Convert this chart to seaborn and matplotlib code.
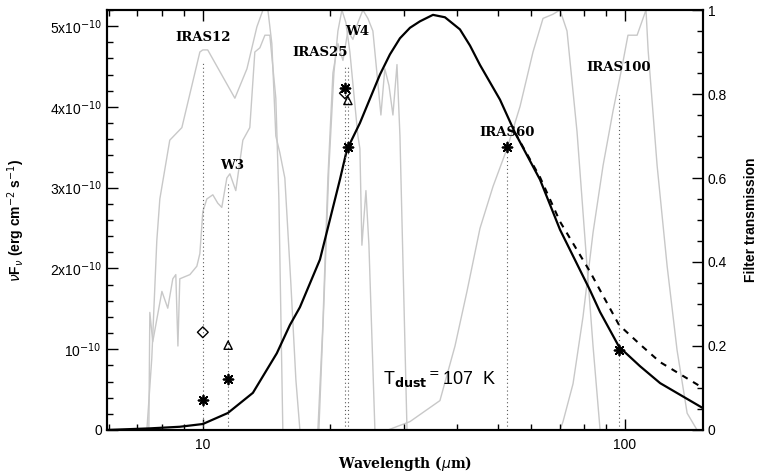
import matplotlib
matplotlib.use('Agg')
import matplotlib.pyplot as plt
import seaborn as sns
import pandas as pd
from matplotlib.ticker import MultipleLocator, LogLocator, NullFormatter

# SED curve (solid) and pure blackbody (dashed), flux in units of 1e-10
sed_wave = [5.92, 7.49, 8.82, 10.0, 11.46, 13.14, 14.97, 16.08, 16.98, 18.94, 21.12, 21.94,
            23.55, 26.27, 27.74, 29.30, 30.95, 32.68, 35.08, 37.45, 40.64, 42.93, 45.33,
            50.56, 54.88, 62.89, 70.14, 82.61, 87.27, 96.78, 108.5, 121.1, 153.0]
sed_flux = [0.0, 0.02, 0.04, 0.074, 0.21, 0.46, 0.95, 1.30, 1.52, 2.11, 3.10, 3.47,
            3.80, 4.40, 4.65, 4.85, 4.98, 5.06, 5.14, 5.11, 4.96, 4.76, 4.52,
            4.09, 3.68, 3.10, 2.48, 1.73, 1.46, 1.03, 0.79, 0.58, 0.27]
bb_wave = [54.88, 62.89, 70.14, 82.61, 87.27, 96.78, 108.5, 121.1, 153.0]
bb_flux = [3.68, 3.13, 2.58, 1.96, 1.73, 1.30, 1.06, 0.84, 0.52]

# filter transmission curves
w3_wave = [7.45, 7.49, 7.61, 8.00, 8.26, 8.49, 8.63, 8.73, 8.82, 9.32, 9.68, 9.84, 10.0, 10.22,
           10.56, 10.85, 11.09, 11.40, 11.59, 11.97, 12.44, 12.92, 13.28, 13.65, 14.03, 14.41,
           14.89, 15.14, 15.47]
w3_trans = [0, 0.28, 0.21, 0.33, 0.29, 0.36, 0.37, 0.20, 0.36, 0.37, 0.39, 0.42, 0.52, 0.55,
            0.56, 0.54, 0.53, 0.60, 0.61, 0.57, 0.69, 0.72, 0.90, 0.91, 0.94, 0.94,
            0.79, 0.55, 0]
i12_wave = [7.37, 7.57, 7.78, 7.91, 8.35, 8.92, 9.84, 10.0, 10.27, 11.91, 12.72, 13.43, 13.88,
            14.26, 14.57, 14.89, 15.22, 15.64, 16.16, 16.61, 16.98]
i12_trans = [0, 0.17, 0.45, 0.55, 0.69, 0.72, 0.90, 0.905, 0.905, 0.79, 0.86, 0.96, 1.0,
             1.0, 0.92, 0.70, 0.66, 0.60, 0.35, 0.12, 0]
i25_wave = [18.83, 19.35, 19.88, 20.44, 20.89, 21.35, 21.82, 22.30, 22.79, 23.30, 23.55, 23.81,
            24.34, 24.74, 25.56]
i25_trans = [0, 0.3, 0.62, 0.85, 0.95, 1.0, 0.97, 0.9, 0.8, 0.7, 0.67, 0.44, 0.57, 0.44, 0]
w4_wave = [18.73, 19.24, 19.78, 20.33, 20.89, 21.47, 22.06, 22.67, 23.30, 23.94, 24.60, 25.28,
           25.84, 26.41, 26.98, 27.60, 28.20, 28.83, 29.30, 29.95, 30.45]
w4_trans = [0, 0.25, 0.6, 0.85, 0.92, 0.88, 0.95, 0.93, 0.97, 1.0, 0.98, 0.95, 0.85, 0.75,
            0.86, 0.82, 0.75, 0.87, 0.7, 0.3, 0]
i60_wave = [27.44, 30.95, 36.44, 39.56, 42.23, 45.33, 48.68, 52.54, 56.39, 60.53, 63.93, 67.52,
            70.14, 72.87, 76.96, 81.27, 83.98, 87.27]
i60_trans = [0, 0.02, 0.07, 0.2, 0.33, 0.48, 0.58, 0.67, 0.77, 0.90, 0.98, 0.99, 1.0, 0.95,
             0.71, 0.39, 0.2, 0]
i100_wave = [70.14, 71.30, 75.30, 79.52, 83.98, 88.71, 93.67, 98.38, 101.6, 106.8, 112.1, 113.4,
             119.1, 125.8, 132.8, 140.3, 148.1]
i100_trans = [0, 0.02, 0.11, 0.27, 0.47, 0.63, 0.76, 0.865, 0.94, 0.94, 1.0, 0.905, 0.63,
              0.39, 0.19, 0.04, 0]

# photometry
star_wave = [10.0, 11.48, 21.70, 22.06, 52.54, 96.78]
star_flux = [0.37, 0.63, 4.24, 3.51, 3.51, 0.99]
diam_wave = [10.0, 21.70]
diam_flux = [1.21, 4.17]
tri_wave = [11.48, 22.06]
tri_flux = [1.05, 4.08]

# band labels and guide lines
band_names = ['IRAS12', 'W3', 'IRAS25', 'W4', 'IRAS60', 'IRAS100']
band_label_x = [10.0, 11.71, 18.94, 23.17, 52.54, 96.78]
band_label_y = [4.86, 3.27, 4.68, 4.93, 3.68, 4.49]
guide_x = [10.0, 11.48, 21.70, 22.06, 52.54, 96.78]
guide_top = [4.55, 3.05, 4.5, 4.5, 3.4, 4.15]

sns.set_style('ticks')
plt.rcParams['font.family'] = ['Liberation Sans', 'DejaVu Sans']
plt.rcParams['mathtext.fontset'] = 'dejavusans'
for key in ['text.color', 'axes.labelcolor', 'xtick.color', 'ytick.color', 'axes.edgecolor']:
    plt.rcParams[key] = 'black'

fig = plt.figure(figsize=(7.67, 4.72), dpi=100)
ax = fig.add_axes([0.1391, 0.0890, 0.7775, 0.8898])
ax2 = ax.twinx()
ax.set_zorder(ax2.get_zorder() + 1)
ax.patch.set_visible(False)

# filters on right axis
grey = '#c8c8c8'
for wv, tr in [(i12_wave, i12_trans), (w3_wave, w3_trans), (i25_wave, i25_trans),
               (w4_wave, w4_trans), (i60_wave, i60_trans), (i100_wave, i100_trans)]:
    sns.lineplot(x=wv, y=tr, ax=ax2, color=grey, lw=1.0, sort=False, estimator=None)

scale = 1e-10
sns.lineplot(x=sed_wave, y=[f * scale for f in sed_flux], ax=ax, color='black', lw=1.6,
             sort=False, estimator=None)
sns.lineplot(x=bb_wave, y=[f * scale for f in bb_flux], ax=ax, color='black', lw=1.5,
             sort=False, estimator=None, linestyle=(0, (3, 3)))

ax.vlines(guide_x, 0, [t * scale for t in guide_top], colors='0.35', linestyles=(0, (1, 2.5)),
          lw=0.8)

sns.scatterplot(x=star_wave, y=[f * scale for f in star_flux], ax=ax, marker=(8, 2, 0),
                s=50, color='black', linewidth=1.3, edgecolor='black', zorder=5)
sns.scatterplot(x=diam_wave, y=[f * scale for f in diam_flux], ax=ax, marker='D', s=30,
                facecolor='none', edgecolor='black', linewidth=1.0, zorder=5)
sns.scatterplot(x=tri_wave, y=[f * scale for f in tri_flux], ax=ax, marker='^', s=35,
                facecolor='none', edgecolor='black', linewidth=1.0, zorder=5)

for name, lx, ly in zip(band_names, band_label_x, band_label_y):
    ax.text(lx, ly * scale, name, ha='center', va='center', fontsize=9.5,
            fontweight='bold', family='DejaVu Serif')

ax.text(26.7, 0.56 * scale, r'T$_{\mathbf{dust}}$$^{=}$107  K', fontsize=13,
        ha='left', va='baseline')

ax.set_xscale('log')
ax.set_xlim(5.92, 153)
ax.set_ylim(0, 5.2e-10)
ax2.set_ylim(0, 1)

ax.set_xticks([10, 100])
ax.set_xticklabels(['10', '100'])
ax.xaxis.set_minor_locator(LogLocator(base=10, subs=[2, 3, 4, 5, 6, 7, 8, 9]))
ax.xaxis.set_minor_formatter(NullFormatter())
yt = [0, 1e-10, 2e-10, 3e-10, 4e-10, 5e-10]
ax.set_yticks(yt)
ax.set_yticklabels(['0', r'10$^{-10}$', r'2x10$^{-10}$', r'3x10$^{-10}$',
                    r'4x10$^{-10}$', r'5x10$^{-10}$'])
ax.yaxis.set_minor_locator(MultipleLocator(0.2e-10))
ax2.set_yticks([0, 0.2, 0.4, 0.6, 0.8, 1.0])
ax2.set_yticklabels(['0', '0.2', '0.4', '0.6', '0.8', '1'])
ax2.yaxis.set_minor_locator(MultipleLocator(0.05))

ax.tick_params(axis='x', which='both', direction='in', top=True, bottom=True, labelsize=10,
               pad=6)
ax.tick_params(axis='y', which='both', direction='in', left=True, right=False, labelsize=10)
ax.tick_params(which='major', length=8, width=1.0)
ax.tick_params(which='minor', length=4.5, width=1.0)
ax2.tick_params(axis='y', which='both', direction='in', right=True, left=False, labelsize=10)
ax2.tick_params(which='major', length=8, width=1.0)
ax2.tick_params(which='minor', length=4.5, width=1.0)

for a in (ax, ax2):
    for sp in a.spines.values():
        sp.set_linewidth(1.5)
        sp.set_color('black')
        sp.set_visible(True)

ax.set_xlabel(r'Wavelength ($\mu$m)', fontsize=10, fontweight='bold', family='DejaVu Serif')
ax.xaxis.set_label_coords(0.5, -0.058)
ax.set_ylabel(r'$\nu$F$_\nu$ (erg cm$^{-2}$ s$^{-1}$)', fontsize=10, fontweight='bold')
ax.yaxis.set_label_coords(-0.133, 0.5)
ax2.set_ylabel('Filter transmission', fontsize=10, fontweight='bold')
ax2.yaxis.set_label_coords(1.068, 0.5)

fig.savefig('out.png', dpi=100)
